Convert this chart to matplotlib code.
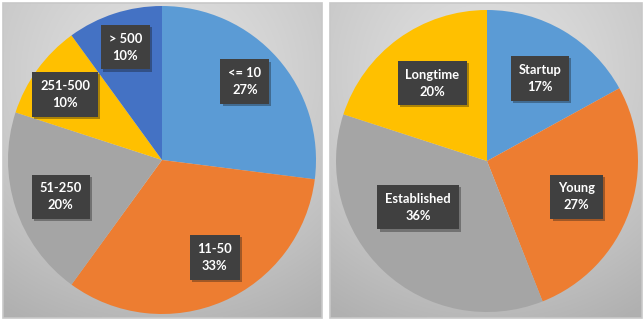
import numpy as np
import matplotlib
matplotlib.use("Agg")
import matplotlib.pyplot as plt
import matplotlib.patheffects as pe
from matplotlib.patches import Rectangle

# company size pie
size_labels = ["<= 10", "11-50", "51-250", "251-500", "> 500"]
size_values = [27, 33, 20, 10, 10]
size_colors = ["#5B9BD5", "#ED7D31", "#A5A5A5", "#FFC000", "#4472C4"]

# company age pie
age_labels = ["Startup", "Young", "Established", "Longtime"]
age_values = [17, 27, 36, 20]
age_colors = ["#5B9BD5", "#ED7D31", "#A5A5A5", "#FFC000"]

W, H = 643, 322
fig = plt.figure(figsize=(W / 100, H / 100), dpi=100)
ax = fig.add_axes([0, 0, 1, 1])
ax.set_xlim(0, W)
ax.set_ylim(0, H)
ax.axis("off")


def panel_bg(x0, x1, y0, y1):
    # soft radial-ish gradient, light at top centre, greyer at the bottom
    ny, nx = 120, 120
    yy, xx = np.mgrid[0:1:ny * 1j, 0:1:nx * 1j]
    d = np.sqrt((xx - 0.5) ** 2 + (yy - 0.35) ** 2)
    v = 0.93 - 0.18 * np.clip(d / 0.8, 0, 1) - 0.06 * yy
    img = np.dstack([v, v, v])
    ax.imshow(img, extent=(x0, x1, y0, y1), origin="upper",
              aspect="auto", zorder=0, interpolation="bilinear")
    ax.add_patch(Rectangle((x0, y0), x1 - x0, y1 - y0, fill=False,
                           edgecolor="#C8C8C8", lw=1.2, zorder=1))


def draw_pie(values, labels, colors, cx, cy, r, rfrac, nudge):
    ax.pie(values, colors=colors, startangle=90, counterclock=False,
           center=(cx, cy), radius=r, frame=True,
           wedgeprops=dict(linewidth=0, zorder=2))
    total = float(sum(values))
    start = 90.0
    for i, (lab, val) in enumerate(zip(labels, values)):
        span = 360.0 * val / total
        mid = np.deg2rad(start - span / 2 + nudge[i][0])
        rr = r * (rfrac + nudge[i][1])
        tx = cx + rr * np.cos(mid)
        ty = cy + rr * np.sin(mid)
        t = ax.text(tx, ty, f"{lab}\n{val}%", ha="center", va="center",
                    color="white", fontsize=9.3, fontweight="bold",
                    family="Lato", linespacing=1.5,
                    bbox=dict(boxstyle="square,pad=0.6", fc="#404040", ec="none"),
                    zorder=5)
        t.get_bbox_patch().set_path_effects(
            [pe.SimplePatchShadow(offset=(1.5, -1.5), alpha=0.35), pe.Normal()])
        start -= span


panel_bg(3, 322, 4, 319)
panel_bg(330, 642, 4, 319)

draw_pie(size_values, size_labels, size_colors, 162, H - 160, 154, 0.74,
         [(2, 0), (5, -0.02), (2, -0.04), (2, 0.02), (0, 0.03)])
draw_pie(age_values, age_labels, age_colors, 487, H - 161, 151, 0.63,
         [(-2, 0.02), (-2, 0.01), (-13, -0.08), (-1, 0)])

ax.set_xlim(0, W)
ax.set_ylim(0, H)
ax.set_aspect("auto")
ax.axis("off")

fig.savefig("out.png", dpi=100)
